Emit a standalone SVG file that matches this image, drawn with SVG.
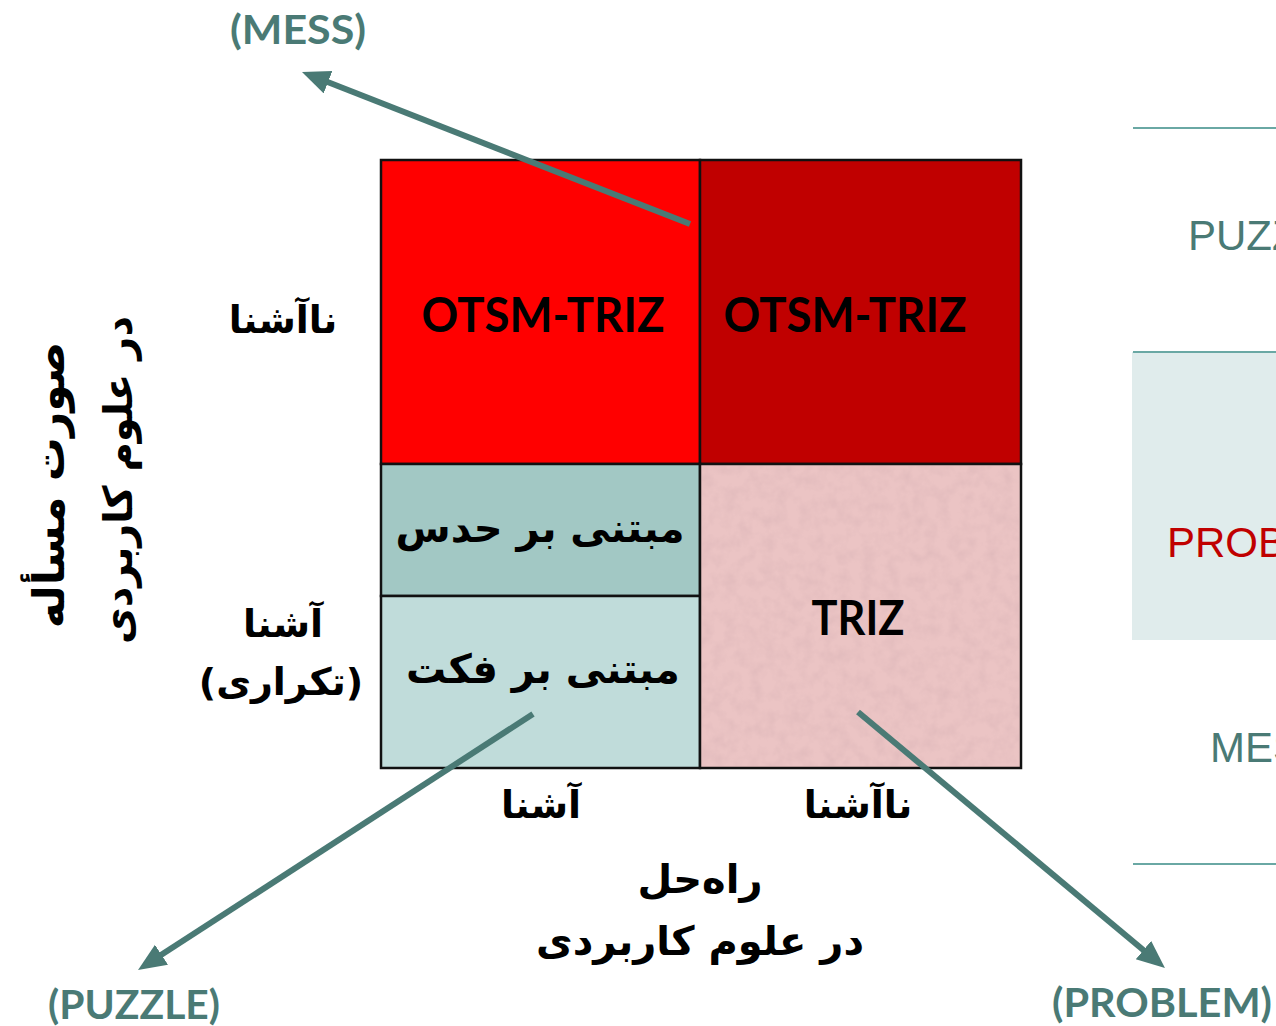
<svg xmlns="http://www.w3.org/2000/svg" width="1276" height="1026" viewBox="0 0 1276 1026">
<style>
.lat{font-family:Lato,"Open Sans","Liberation Sans",sans-serif;font-weight:bold}
.fa{font-family:"DejaVu Sans","Noto Sans",sans-serif;font-weight:bold;fill:#000;text-anchor:middle}
.teal{fill:#4A7A75}
.cell{stroke:#111;stroke-width:2.5}
.conn{stroke:#4A7A75;stroke-width:6;fill:none;marker-end:url(#ah)}
.side{font-family:"Liberation Sans",Arial,sans-serif;font-size:42px}
.rule{stroke:#6AA8A4;stroke-width:2}
</style>
<defs>
<marker id="ah" markerUnits="userSpaceOnUse" markerWidth="30" markerHeight="26" refX="8" refY="12" orient="auto">
<path d="M0,0 L28,12 L0,24 z" fill="#4A7A75"/>
</marker>
<filter id="noise" x="0" y="0" width="100%" height="100%">
<feTurbulence type="fractalNoise" baseFrequency="0.08" numOctaves="3" seed="4" result="t"/>
<feColorMatrix in="t" type="matrix" values="0 0 0 0 0.55  0 0 0 0 0.35  0 0 0 0 0.38  0 0 0 1.2 -0.45" result="c"/>
<feComposite in="c" in2="SourceGraphic" operator="in"/>
</filter>
</defs>

<g id="right-panel">
<line class="rule" x1="1133" y1="128" x2="1276" y2="128"/>
<rect x="1132" y="352" width="144" height="288" fill="#E0ECEC"/>
<line class="rule" x1="1133" y1="352" x2="1276" y2="352"/>
<line class="rule" x1="1133" y1="864" x2="1276" y2="864"/>
<text class="side" x="1188" y="250" fill="#4A7A75">PUZZLE</text>
<text class="side" x="1167" y="557" fill="#C00000">PROBLEM</text>
<text class="side" x="1210" y="762" fill="#4A7A75">MESS</text>
</g>

<g id="cell-mess-familiar">
<rect class="cell" x="381" y="160" width="319" height="304" fill="#FF0000"/>
<text class="lat" x="543" y="332" text-anchor="middle" font-size="48" textLength="243" lengthAdjust="spacingAndGlyphs">OTSM-TRIZ</text>
</g>
<g id="cell-mess-unfamiliar">
<rect class="cell" x="700" y="160" width="321" height="304" fill="#C00000"/>
<text class="lat" x="845" y="332" text-anchor="middle" font-size="48" textLength="243" lengthAdjust="spacingAndGlyphs">OTSM-TRIZ</text>
</g>
<g id="cell-guess">
<rect class="cell" x="381" y="464" width="319" height="132" fill="#A2C8C4"/>
<text class="fa" x="540" y="542" font-size="40">مبتنی بر حدس</text>
</g>
<g id="cell-fact">
<rect class="cell" x="381" y="596" width="319" height="172" fill="#C0DCDA"/>
<text class="fa" x="543" y="683" font-size="40">مبتنی بر فکت</text>
</g>
<g id="cell-triz">
<rect class="cell" x="700" y="464" width="321" height="304" fill="#EBC4C4"/>
<rect x="702" y="466" width="317" height="300" fill="#EBC4C4" filter="url(#noise)" opacity="0.35"/>
<text class="lat" x="858" y="635" text-anchor="middle" font-size="48" textLength="93" lengthAdjust="spacingAndGlyphs">TRIZ</text>
</g>

<g id="axis-labels">
<text class="fa" x="283" y="333" font-size="38">ناآشنا</text>
<text class="fa" x="283" y="637" font-size="38">آشنا</text>
<text class="fa" x="281" y="695" font-size="38">(تکراری)</text>
<text class="fa" x="541" y="818" font-size="38">آشنا</text>
<text class="fa" x="858" y="818" font-size="38">ناآشنا</text>
<text class="fa" x="700" y="893" font-size="40">راه‌حل</text>
<text class="fa" x="700" y="955" font-size="40">در علوم کاربردی</text>
<text class="fa" font-size="44" transform="translate(64,485) rotate(-90)">صورت مسأله</text>
<text class="fa" font-size="40" transform="translate(132,480) rotate(-90)">در علوم کاربردی</text>
</g>

<g id="category-labels">
<text class="lat teal" x="298" y="44" text-anchor="middle" font-size="40" textLength="136" lengthAdjust="spacingAndGlyphs">(MESS)</text>
<text class="lat teal" x="134" y="1019" text-anchor="middle" font-size="40" textLength="172" lengthAdjust="spacingAndGlyphs">(PUZZLE)</text>
<text class="lat teal" x="1162" y="1017" text-anchor="middle" font-size="40" textLength="220" lengthAdjust="spacingAndGlyphs">(PROBLEM)</text>
</g>

<g id="connectors">
<line class="conn" x1="690" y1="224" x2="320.6" y2="79.3"/>
<line class="conn" x1="533" y1="714" x2="154.8" y2="959.1"/>
<line class="conn" x1="858" y1="712" x2="1149.6" y2="955.2"/>
</g>
</svg>
